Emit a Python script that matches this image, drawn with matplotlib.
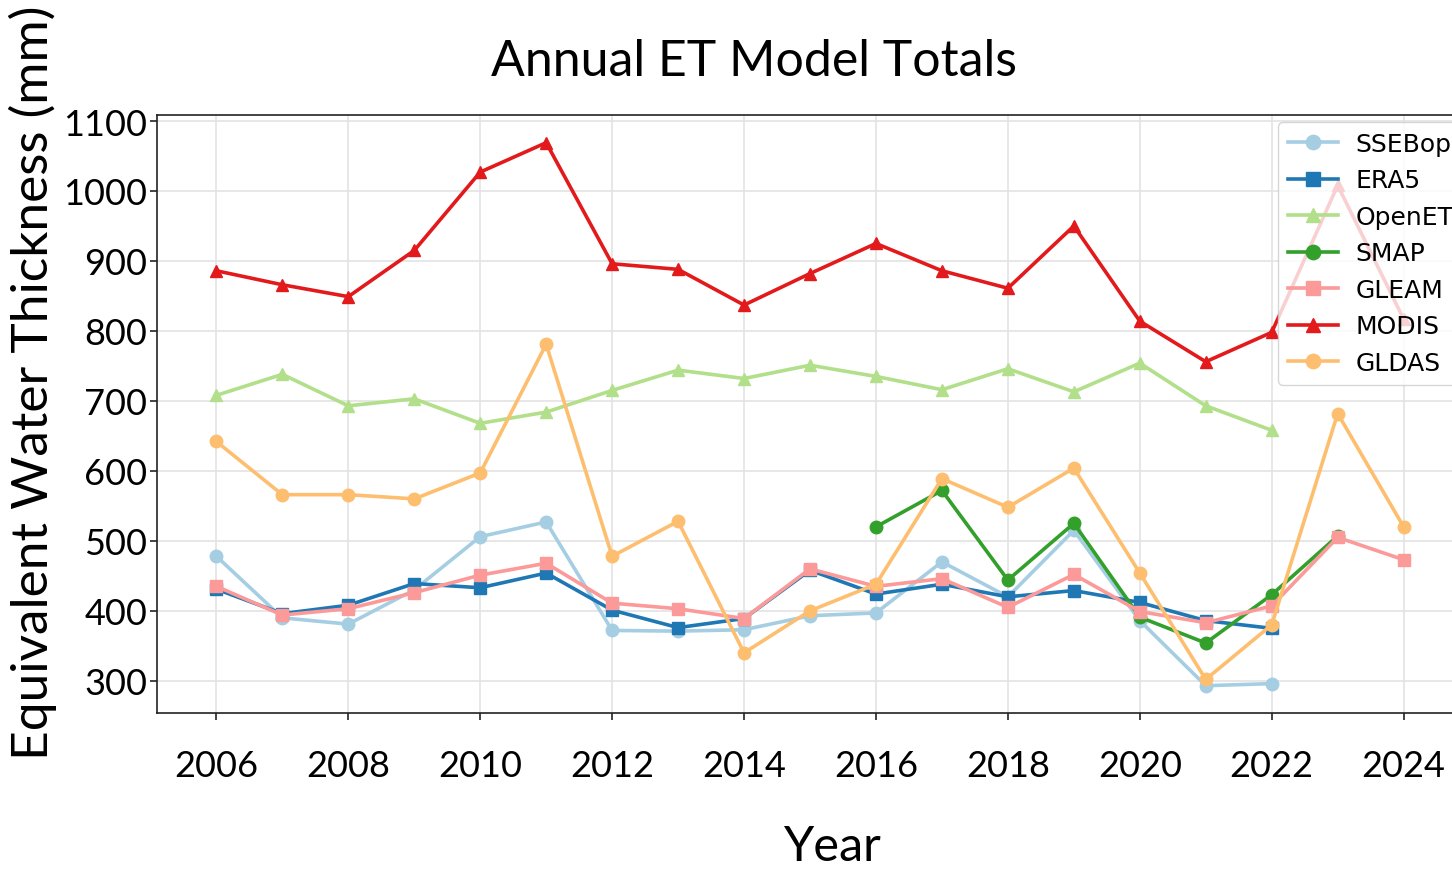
import numpy as np
import matplotlib
matplotlib.use("Agg")
import matplotlib.pyplot as plt

nan = np.nan
years = list(range(2006, 2025))

# annual totals (mm), NaN where a product has no value
sssebop = [478, 390, 381, 430, 506, 527, 372, 371, 373, 393, 397, 470, 420, 515, 386, 293, 296, nan, nan]
era5 = [431, 396, 408, 439, 433, 454, 401, 376, 389, 458, 424, 438, 420, 429, 412, 386, 375, nan, nan]
openet = [708, 738, 693, 703, 668, 684, 715, 744, 732, 751, 735, 716, 746, 713, 754, 693, 658, nan, nan]
smap = [nan] * 10 + [520, 572, 444, 525, 391, 354, 423, 507, nan]
gleam = [435, 394, 403, 426, 451, 468, 411, 403, 389, 460, 435, 446, 405, 452, 399, 383, 407, 505, 473]
modis = [886, 866, 849, 915, 1027, 1069, 896, 888, 837, 882, 925, 886, 861, 950, 814, 756, 798, 1008, 817]
gldas = [642, 566, 566, 560, 597, 781, 478, 528, 340, 400, 438, 589, 548, 604, 454, 302, 380, 682, 520]

names = ["SSEBop", "ERA5", "OpenET", "SMAP", "GLEAM", "MODIS", "GLDAS"]
series = [sssebop, era5, openet, smap, gleam, modis, gldas]
markers = ["o", "s", "^", "o", "s", "^", "o"]
colors = ["#a6cee3", "#1f78b4", "#b2df8a", "#33a02c", "#fb9a99", "#e31a1c", "#fdbf6f"]

fnt = "Lato"

fig = plt.figure(figsize=(14.52, 8.70), dpi=100)
ax = fig.add_axes([157 / 1452, 1 - 714 / 870, (1463 - 157) / 1452, (714 - 116) / 870])

for name, vals, m, c in zip(names, series, markers, colors):
    ax.plot(years, vals, marker=m, color=c, lw=2.6, ms=9, label=name)

ax.set_xlim(2005.1, 2024.9)
ax.set_ylim(254, 1108.6)
ax.set_xticks(range(2006, 2025, 2))
ax.set_yticks(range(300, 1101, 100))
ax.grid(True, color="#e3e3e3", lw=1.2)
ax.set_axisbelow(True)
for s in ax.spines.values():
    s.set_color("#222222")
    s.set_linewidth(1.2)

ax.tick_params(axis="both", direction="out", length=5, width=1.2, color="#222222")
ax.tick_params(axis="x", pad=21)
ax.tick_params(axis="y", pad=2)
for lab in ax.get_xticklabels() + ax.get_yticklabels():
    lab.set_fontfamily(fnt)
    lab.set_fontsize(26)

fig.text(754 / 1452, 1 - 62 / 870, "Annual ET Model Totals", family=fnt, fontsize=36,
         ha="center", va="center")
fig.text(832 / 1452, 1 / 870, "Year", family=fnt, fontsize=35, ha="center", va="bottom")
fig.text(33 / 1452, 1 - 383 / 870, "Equivalent Water Thickness (mm)", family=fnt, fontsize=37,
         ha="center", va="center", rotation=90)

ax.legend(loc="upper left", bbox_to_anchor=(1278 / 1452, 1 - 123 / 870),
          bbox_transform=fig.transFigure, borderaxespad=0,
          markerscale=1.15, handletextpad=0.7, prop={"family": "DejaVu Sans", "size": 18})

fig.savefig("out.png", dpi=100)
